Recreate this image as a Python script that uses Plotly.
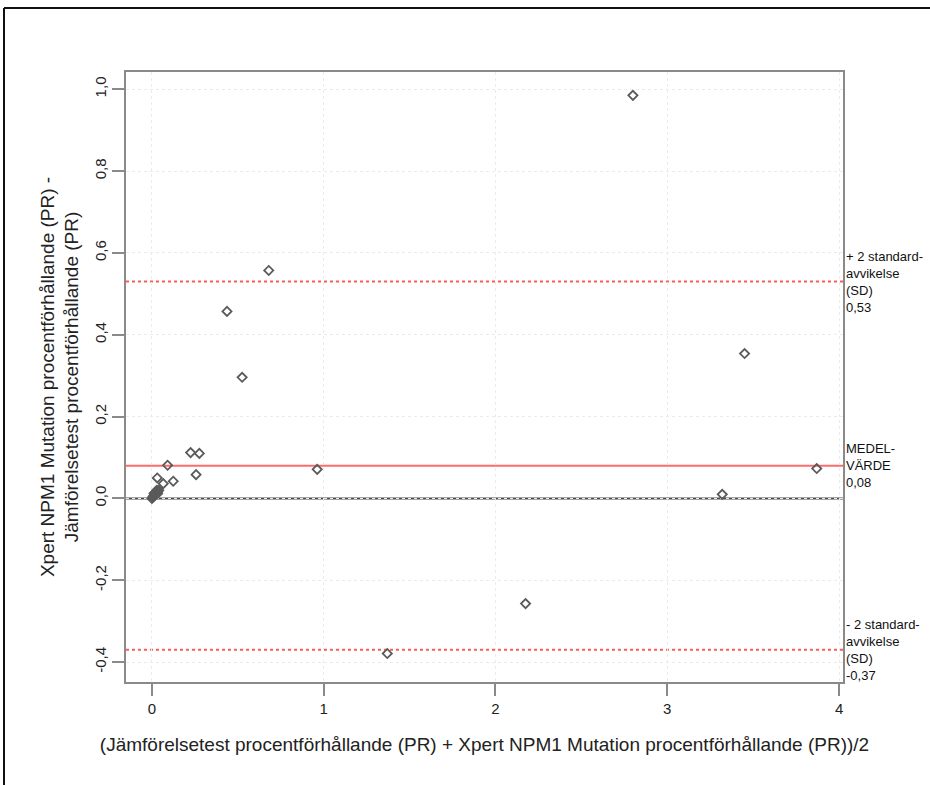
import plotly.graph_objects as go

# Bland-Altman data: mean of the two methods (x) and difference (y)
x_mean = [2.80, 0.68, 0.437, 0.525, 3.45, 0.225, 0.276, 0.091, 0.962, 3.87,
          0.257, 0.031, 0.124, 0.066, 3.32, 2.175, 1.37,
          0.0, 0.005, 0.01, 0.015, 0.02, 0.025, 0.03, 0.035, 0.04, 0.012, 0.028,
          0.008, 0.018, 0.033]
y_diff = [0.985, 0.557, 0.457, 0.296, 0.354, 0.112, 0.110, 0.081, 0.071, 0.073,
          0.058, 0.050, 0.042, 0.036, 0.010, -0.257, -0.379,
          0.0, 0.003, 0.006, 0.008, 0.010, 0.012, 0.015, 0.018, 0.020, 0.012, 0.02,
          0.004, 0.014, 0.012]

mean_diff = 0.08
upper_loa = 0.53
lower_loa = -0.37

x_ticks = [0, 1, 2, 3, 4]
x_ticktext = ["0", "1", "2", "3", "4"]
y_ticks = [-0.4, -0.2, 0.0, 0.2, 0.4, 0.6, 0.8, 1.0]
y_ticktext = ["-0,4", "-0,2", "0,0", "0,2", "0,4", "0,6", "0,8", "1,0"]

upper_label = "+ 2 standard-<br>avvikelse<br>(SD)<br>0,53"
mean_label = "MEDEL-<br>VÄRDE<br>0,08"
lower_label = "- 2 standard-<br>avvikelse<br>(SD)<br>-0,37"

x_title = "(Jämförelsetest procentförhållande (PR) + Xpert NPM1 Mutation procentförhållande (PR))/2"
y_title = "Xpert NPM1 Mutation procentförhållande (PR) -<br>Jämförelsetest procentförhållande (PR)"

FONT = "Liberation Sans, Arial, sans-serif"
W, H = 930, 785
L, R, T, B = 126, 87, 72, 103
pw, ph = W - L - R, H - T - B

fig = go.Figure()
fig.add_trace(go.Scatter(
    x=x_mean, y=y_diff, mode="markers",
    marker=dict(symbol="diamond-open", size=7, color="#5a5a5a",
                line=dict(width=1.8, color="#5a5a5a")),
    showlegend=False, hoverinfo="x+y"))

shapes = []
# zero line
shapes.append(dict(type="line", xref="paper", x0=0, x1=1, yref="y", y0=0, y1=0,
                   line=dict(color="#4a4a4a", width=2), layer="below"))
# mean line
shapes.append(dict(type="line", xref="paper", x0=0, x1=1, yref="y", y0=mean_diff, y1=mean_diff,
                   line=dict(color="#ff6b6b", width=2), layer="below"))
# limits of agreement
for v in (upper_loa, lower_loa):
    shapes.append(dict(type="line", xref="paper", x0=0, x1=1, yref="y", y0=v, y1=v,
                       line=dict(color="#ff5a5a", width=2, dash="dot"), layer="below"))
# outer frame (top and left edges)
fx = (4 - L) / pw
fy_top = (H - B - 8) / ph
fy_bot = (H - B - 800) / ph
fx_right = (960 - L) / pw
shapes.append(dict(type="line", xref="paper", yref="paper", x0=fx, x1=fx, y0=fy_bot, y1=fy_top,
                   line=dict(color="#111111", width=2)))
shapes.append(dict(type="line", xref="paper", yref="paper", x0=fx, x1=fx_right, y0=fy_top, y1=fy_top,
                   line=dict(color="#111111", width=2)))

annotations = []
for v, txt in ((upper_loa, upper_label), (mean_diff, mean_label), (lower_loa, lower_label)):
    annotations.append(dict(xref="paper", x=1, xanchor="left", xshift=1,
                            yref="y", y=v, yanchor="middle", text=txt, align="left",
                            showarrow=False, font=dict(family=FONT, size=13, color="#111111")))

axis_common = dict(showline=True, linecolor="#8a8a8a", linewidth=2, mirror=True,
                   ticks="outside", ticklen=12, tickwidth=2, tickcolor="#8a8a8a",
                   showgrid=True, gridcolor="#ebebeb", griddash="dot", gridwidth=1,
                   zeroline=False, tickfont=dict(family=FONT, size=15, color="#222222"))

fig.update_layout(
    width=W, height=H,
    margin=dict(l=L, r=R, t=T, b=B, pad=0),
    paper_bgcolor="white", plot_bgcolor="white",
    shapes=shapes, annotations=annotations,
    xaxis=dict(range=[-0.151, 4.023], tickvals=x_ticks, ticktext=x_ticktext,
               title=dict(text=x_title, font=dict(family=FONT, size=19, color="#222222"), standoff=22),
               **axis_common),
    yaxis=dict(range=[-0.4486, 1.042], tickvals=y_ticks, ticktext=y_ticktext, tickangle=-90,
               title=dict(text=y_title, font=dict(family=FONT, size=19, color="#222222"), standoff=8),
               **axis_common),
)

fig.write_html("out.html")
